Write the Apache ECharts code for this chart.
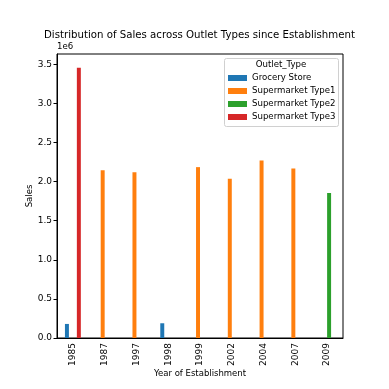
<!DOCTYPE html>
<html><head><meta charset="utf-8">
<script src="https://cdn.jsdelivr.net/npm/echarts@6/dist/echarts.min.js"></script>
<style>html,body{margin:0;padding:0;background:#fff}#c{width:389px;height:389px}</style>
</head><body><div id="c"></div>
<script>
const years = ['1985','1987','1997','1998','1999','2002','2004','2007','2009'];
const grocery = [179694, null, null, 188340, null, null, null, null, null];
const type1 = [null, 2142664, 2118395, null, 2183970, 2036725, 2268123, 2167465, null];
const type2 = [null, null, null, null, null, null, null, null, 1851823];
const type3 = [3453926, null, null, null, null, null, null, null, null];
const seriesNames = ['Grocery Store','Supermarket Type1','Supermarket Type2','Supermarket Type3'];
const colors = ['#1f77b4','#ff7f0e','#2ca02c','#d62728'];
const yTicks = [0, 500000, 1000000, 1500000, 2000000, 2500000, 3000000, 3500000];

const F = 'DejaVu Sans';
const chart = echarts.init(document.getElementById('c'), null, {renderer:'canvas'});
const data = [grocery, type1, type2, type3];
chart.setOption({
  animation: false,
  backgroundColor: '#fff',
  grid: {left: 57, right: 46, top: 54, bottom: 51, show: true, borderColor: '#000', borderWidth: 1},
  xAxis: {type: 'category', data: years, boundaryGap: true,
    name: 'Year of Establishment', nameLocation: 'middle', nameGap: 31, nameMoveOverlap: false,
    nameTextStyle: {fontFamily: F, fontSize: 8.5, color: '#000'},
    axisLine: {lineStyle: {color: '#000'}},
    axisTick: {alignWithLabel: true, length: 3.5, lineStyle: {color: '#000'}},
    axisLabel: {rotate: 90, fontFamily: F, fontSize: 9, color: '#000', margin: 5}},
  yAxis: {type: 'value', min: 0, max: 3630000, interval: 500000,
    name: 'Sales', nameLocation: 'middle', nameGap: 23, nameMoveOverlap: false,
    nameTextStyle: {fontFamily: F, fontSize: 8.5, color: '#000'},
    splitLine: {show: false},
    axisLine: {show: true, lineStyle: {color: '#000'}},
    axisTick: {show: true, length: 3.5, lineStyle: {color: '#000'}, customValues: yTicks},
    axisLabel: {fontFamily: F, fontSize: 9, color: '#000', margin: 5, customValues: yTicks,
      formatter: v => (v/1e6).toFixed(1)}},
  legend: {orient: 'vertical', left: 228, top: 72, padding: 0, itemWidth: 19, itemHeight: 6, itemGap: 1,
    icon: 'rect', data: seriesNames,
    textStyle: {fontFamily: F, fontSize: 8.6, color: '#000', lineHeight: 12}},
  graphic: [
    {type: 'text', x: 199.5, y: 35, style: {text: 'Distribution of Sales across Outlet Types since Establishment', fontFamily: F, fontSize: 10.2, fill: '#000', textAlign: 'center', textVerticalAlign: 'middle'}},
    {type: 'rect', shape: {x: 224.5, y: 58.5, width: 114, height: 68, r: 2}, style: {fill: 'rgba(255,255,255,0.8)', stroke: '#d0d0d0', lineWidth: 1}, z: 0},
    {type: 'text', x: 281, y: 65, style: {text: 'Outlet_Type', fontFamily: F, fontSize: 8.6, fill: '#000', textAlign: 'center', textVerticalAlign: 'middle'}, z: 10},
    {type: 'text', x: 57, y: 47, style: {text: '1e6', fontFamily: F, fontSize: 8.6, fill: '#000', textAlign: 'left', textVerticalAlign: 'middle'}}
  ],
  series: seriesNames.map((n, i) => ({name: n, type: 'bar', data: data[i], barWidth: '12.5%', barGap: '0%',
    itemStyle: {color: colors[i]}}))
});
</script></body></html>
